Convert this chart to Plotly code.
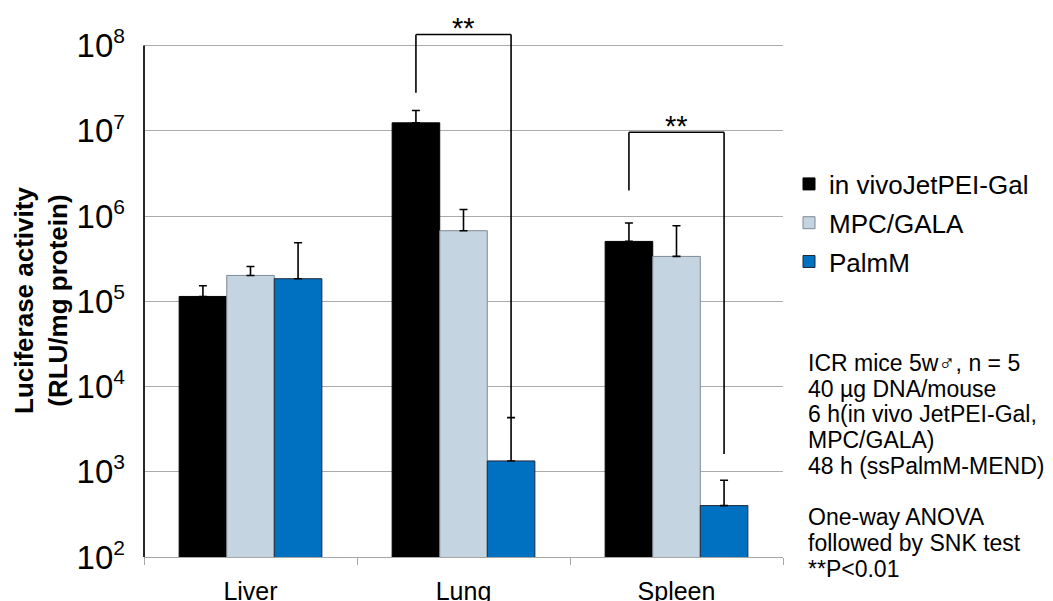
import math
import plotly.graph_objects as go

# ---------------- data ----------------
organs = ["Liver", "Lung", "Spleen"]
series_names = ["in vivoJetPEI-Gal", "MPC/GALA", "PalmM"]

jetpei_mean = [1.14e5, 1.24e7, 5.04e5]
jetpei_sd = [3.8e4, 4.9e6, 3.24e5]
mpc_mean = [2.01e5, 6.73e5, 3.36e5]
mpc_sd = [5.5e4, 5.2e5, 4.34e5]
palmm_mean = [1.84e5, 1.34e3, 401]
palmm_sd = [3.02e5, 2.98e3, 394]

ytick_vals = [1e2, 1e3, 1e4, 1e5, 1e6, 1e7, 1e8]
ytick_exp = ["2", "3", "4", "5", "6", "7", "8"]
y_title = "<b>Luciferase activity</b><br><b>(RLU/mg protein)</b>"

# significance brackets (organ index, left end value, top value, right end value)
bracket_organ = [1, 2]
bracket_left_end = [2.8e7, 2.0e6]
bracket_top = [1.35e8, 9.6e6]
bracket_right_end = [4.3e3, 1.62e3]
bracket_label = ["**", "**"]

note_lines = ["ICR mice 5w\u2642, n = 5", "40 \u00b5g DNA/mouse", "6 h(in vivo JetPEI-Gal,",
              "MPC/GALA)", "48 h (ssPalmM-MEND)", "", "One-way ANOVA",
              "followed by SNK test", "**P<0.01"]

# ---------------- style ----------------
FONT = "Liberation Sans, Arial, sans-serif"
colors = ["#000000", "#C5D4E1", "#0070C0"]
line_colors = ["#000000", "#7F8A94", "#1F2A3A"]

OFF = 8  # page body margin
W, H = 1053 - OFF, 601 - OFF
ML, MR, MT, MB = 144 - OFF, 270, 20 - OFF, 44
plot_w = W - ML - MR
plot_h = H - MT - MB
BARGAP = 0.33


def px_x(p):
    # reference pixel -> paper x
    return (p - OFF - ML) / plot_w


def px_y(p):
    # reference pixel -> paper y
    return (H - MB - (p - OFF)) / plot_h


ytick_text = ["10<sup><span style='font-size:21px'>%s</span></sup>" % e for e in ytick_exp]

fig = go.Figure()
means = [jetpei_mean, mpc_mean, palmm_mean]
sds = [jetpei_sd, mpc_sd, palmm_sd]
for k in range(3):
    fig.add_trace(go.Bar(
        x=organs, y=means[k], name=series_names[k],
        legendgroup=series_names[k],
        marker=dict(color=colors[k], line=dict(color=line_colors[k], width=1)),
        error_y=dict(type="data", symmetric=False, array=sds[k],
                     arrayminus=[0] * len(organs), color="#000000",
                     thickness=1.6, width=4),
    ))

n_series = 3
bar_w = (1 - BARGAP) / n_series


def bar_center(cat, k):
    return cat + (k - (n_series - 1) / 2) * bar_w


shapes = []
annotations = []
for i, c in enumerate(bracket_organ):
    xl = bar_center(c, 0)
    xr = bar_center(c, 2)
    ln = dict(color="#000000", width=1.6)
    shapes.append(dict(type="line", xref="x", yref="y", x0=xl, x1=xl,
                       y0=bracket_left_end[i], y1=bracket_top[i], line=ln))
    shapes.append(dict(type="line", xref="x", yref="y", x0=xl, x1=xr,
                       y0=bracket_top[i], y1=bracket_top[i], line=ln))
    shapes.append(dict(type="line", xref="x", yref="y", x0=xr, x1=xr,
                       y0=bracket_top[i], y1=bracket_right_end[i], line=ln))
    annotations.append(dict(x=(xl + xr) / 2, y=math.log10(bracket_top[i]),
                            xref="x", yref="y", text=bracket_label[i],
                            showarrow=False, yanchor="bottom", yshift=-12,
                            font=dict(family=FONT, size=29, color="#000000")))

# y axis line from 10^2 to 10^8
shapes.append(dict(type="line", xref="paper", yref="y", x0=0, x1=0,
                   y0=ytick_vals[0], y1=ytick_vals[-1],
                   line=dict(color="#262626", width=2)))

# y axis title (centred on the 10^2..10^8 span)
annotations.append(dict(x=px_x(41), y=px_y(301), xref="paper", yref="paper",
                        text=y_title, showarrow=False, textangle=-90,
                        xanchor="center", yanchor="middle", align="center",
                        font=dict(family=FONT, size=26, color="#000000")))

# notes on right
line_pitch = 25.7
first_line_px = 363
for i, t in enumerate(note_lines):
    if not t:
        continue
    annotations.append(dict(x=px_x(806), y=px_y(first_line_px + i * line_pitch),
                            xref="paper", yref="paper", text=t, showarrow=False,
                            xanchor="left", yanchor="middle", align="left",
                            font=dict(family=FONT, size=23, color="#000000")))

fig.update_layout(
    width=W, height=H,
    margin=dict(l=ML, r=MR, t=MT, b=MB, autoexpand=False),
    paper_bgcolor="white", plot_bgcolor="white",
    barmode="group", bargap=BARGAP, bargroupgap=0,
    font=dict(family=FONT, color="#000000"),
    showlegend=True,
    legend=dict(x=px_x(789), y=px_y(223), xanchor="left", yanchor="middle",
                font=dict(family=FONT, size=26, color="#000000"),
                tracegroupgap=2, bgcolor="rgba(0,0,0,0)"),
    shapes=shapes, annotations=annotations,
    xaxis=dict(type="category", showline=True, linecolor="#A6A6A6", linewidth=1,
               ticks="outside", tickson="boundaries", ticklen=7, tickcolor="#A6A6A6",
               showgrid=False, tickfont=dict(family=FONT, size=25, color="#000000"),
               ticklabelstandoff=12, range=[-0.5, 2.5]),
    yaxis=dict(type="log", range=[2, 8.3], tickvals=ytick_vals, ticktext=ytick_text,
               showgrid=True, gridcolor="#ABABAB", gridwidth=1, showline=False,
               zeroline=False, ticks="", ticklabelstandoff=18,
               tickfont=dict(family=FONT, size=33, color="#000000")),
)

fig.write_html("out.html")
